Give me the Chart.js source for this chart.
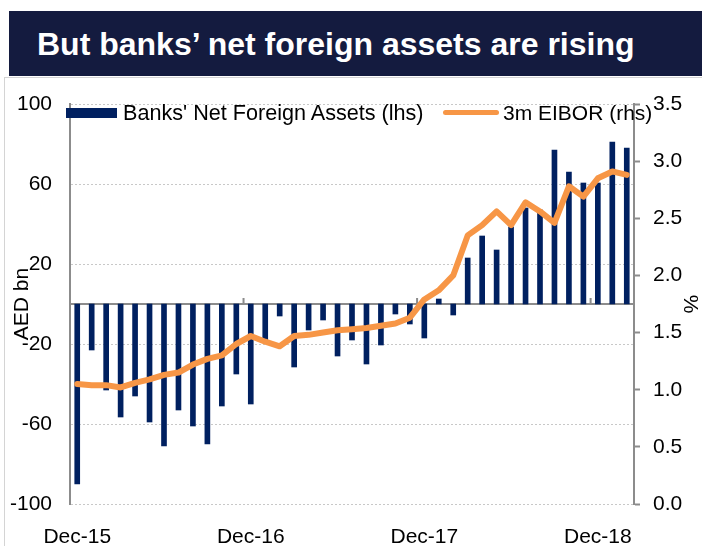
<!DOCTYPE html>
<html>
<head>
<meta charset="utf-8">
<script src="https://cdn.jsdelivr.net/npm/chart.js@4"></script>
<style>
  html, body { margin: 0; padding: 0; background: #fff; overflow: hidden; }
  body { width: 702px; height: 546px; position: relative; font-family: "Liberation Sans", Arial, sans-serif; }
  #frame { position: absolute; left: 4px; top: 77px; width: 720px; height: 500px; border: 1px solid #d4d4d4; }
  #title { position: absolute; left: 9px; top: 11px; width: 693px; height: 65px; background: #141b3f;
           color: #fff; font-weight: bold; font-size: 32px; line-height: 66px; box-sizing: border-box; padding-left: 28px; white-space: nowrap; }
  #wrap { position: absolute; left: 0; top: 0; width: 702px; height: 546px; }
  .lg { position: absolute; font-size: 21px; line-height: 25px; color: #000; white-space: nowrap; }
</style>
</head>
<body>
<div id="frame"></div>
<div id="title">But banks’ net foreign assets are rising</div>
<div id="wrap"><canvas id="chart"></canvas></div>
<div style="position:absolute;left:66px;top:108px;width:51px;height:10px;background:#002060"></div>
<div class="lg" style="left:123px;top:100px;font-size:21.6px">Banks' Net Foreign Assets (lhs)</div>
<div style="position:absolute;left:443px;top:110px;width:56px;height:5px;border-radius:3px;background:#f79646"></div>
<div class="lg" style="left:503px;top:100px">3m EIBOR (rhs)</div>
<script>
const months = [
    'Dec-15', 'Jan-16', 'Feb-16', 'Mar-16', 'Apr-16', 'May-16', 'Jun-16', 'Jul-16', 'Aug-16', 'Sep-16', 'Oct-16', 'Nov-16',
    'Dec-16', 'Jan-17', 'Feb-17', 'Mar-17', 'Apr-17', 'May-17', 'Jun-17', 'Jul-17', 'Aug-17', 'Sep-17', 'Oct-17', 'Nov-17',
    'Dec-17', 'Jan-18', 'Feb-18', 'Mar-18', 'Apr-18', 'May-18', 'Jun-18', 'Jul-18', 'Aug-18', 'Sep-18', 'Oct-18', 'Nov-18',
    'Dec-18', 'Jan-19', 'Feb-19'
];

// AED bn
const netForeignAssets = [
    -90, -23, -43, -56.5, -46, -59, -71, -53, -61, -70, -51, -35,
    -50, -18, -6, -31.5, -13, -8, -26, -18, -30, -20.5, -5, -10,
    -17, 2.5, -5.5, 23, 34, 27, 38.5, 48, 47, 77, 66, 60.5,
    60.5, 81, 78
];

// %
const eibor3m = [
    1.05, 1.04, 1.04, 1.02, 1.06, 1.09, 1.13, 1.15, 1.22, 1.27, 1.30, 1.40,
    1.47, 1.42, 1.38, 1.47, 1.48, 1.50, 1.52, 1.53, 1.54, 1.56, 1.58, 1.63,
    1.79, 1.87, 2.00, 2.35, 2.44, 2.56, 2.44, 2.64, 2.56, 2.46, 2.78, 2.69,
    2.85, 2.91, 2.88
];

const lhsTicks = { min: -100, max: 100, step: 40 };
const rhsTicks = { min: 0, max: 3.5, step: 0.5 };

const axisFont = { family: '"Liberation Sans", Arial, sans-serif', size: 21 };
const axisGray = '#8c8c8c';

// zero line across the plot + small year marks on it
const zeroLine = {
    id: 'zeroLine',
    beforeDatasetsDraw(chart) {
        const { ctx, chartArea, scales: { x, y } } = chart;
        const y0 = y.getPixelForValue(0);
        const half = (x.getPixelForValue(1) - x.getPixelForValue(0)) / 2;
        ctx.save();
        ctx.strokeStyle = axisGray;
        ctx.lineWidth = 2;
        ctx.beginPath();
        ctx.moveTo(chartArea.left, y0);
        ctx.lineTo(chartArea.right, y0);
        months.forEach((m, i) => {
            if (i > 0 && m.startsWith('Dec')) {
                const px = x.getPixelForValue(i) - half;
                ctx.moveTo(px, y0);
                ctx.lineTo(px, y0 - 6);
            }
        });
        ctx.stroke();
        ctx.restore();
    }
};

const ctx = document.getElementById('chart').getContext('2d');
new Chart(ctx, {
    type: 'bar',
    data: {
        labels: months,
        datasets: [
            {
                type: 'line',
                label: '3m EIBOR (rhs)',
                data: eibor3m,
                yAxisID: 'y1',
                borderColor: '#f79646',
                backgroundColor: '#f79646',
                borderWidth: 6,
                pointRadius: 0,
                tension: 0,
                borderCapStyle: 'round',
                borderJoinStyle: 'round',
                order: 1
            },
            {
                label: "Banks' Net Foreign Assets (lhs)",
                data: netForeignAssets,
                yAxisID: 'y',
                backgroundColor: '#002060',
                barThickness: 5,
                order: 2
            }
        ]
    },
    options: {
        responsive: true,
        maintainAspectRatio: false,
        animation: false,
        layout: { padding: { top: 104, left: 0, right: 0, bottom: 0 } },
        plugins: {
            legend: { display: false },
            tooltip: { enabled: false }
        },
        scales: {
            x: {
                offset: true,
                grid: { display: false },
                border: { display: false },
                ticks: {
                    autoSkip: false,
                    maxRotation: 0,
                    padding: 13,
                    color: '#000',
                    font: axisFont,
                    callback: function(value, index) {
                        const m = months[index];
                        return m.startsWith('Dec') ? m : '';
                    }
                },
                afterFit: function(scale) { scale.height = 42; }
            },
            y: {
                position: 'left',
                min: lhsTicks.min,
                max: lhsTicks.max,
                ticks: { stepSize: lhsTicks.step, padding: 18, color: '#000', font: axisFont },
                grid: { color: '#c8c8c8', lineWidth: 1, drawTicks: false },
                border: { display: true, color: axisGray, width: 2, dash: [2, 2] },
                title: { display: true, text: 'AED bn', color: '#000', font: axisFont, padding: { top: 10, bottom: 0 } },
                afterFit: function(scale) { scale.width = 70; }
            },
            y1: {
                position: 'right',
                min: rhsTicks.min,
                max: rhsTicks.max,
                ticks: {
                    stepSize: rhsTicks.step,
                    padding: 13,
                    color: '#000',
                    font: axisFont,
                    callback: v => v.toFixed(1)
                },
                grid: { drawOnChartArea: false, drawTicks: true, tickLength: 6, tickColor: axisGray, tickWidth: 2 },
                border: { display: true, color: axisGray, width: 2 },
                title: { display: true, text: '%', color: '#000', font: axisFont, padding: { top: 0, bottom: 0 } },
                afterFit: function(scale) { scale.width = 68; }
            }
        }
    },
    plugins: [zeroLine]
});
</script>
</body>
</html>
